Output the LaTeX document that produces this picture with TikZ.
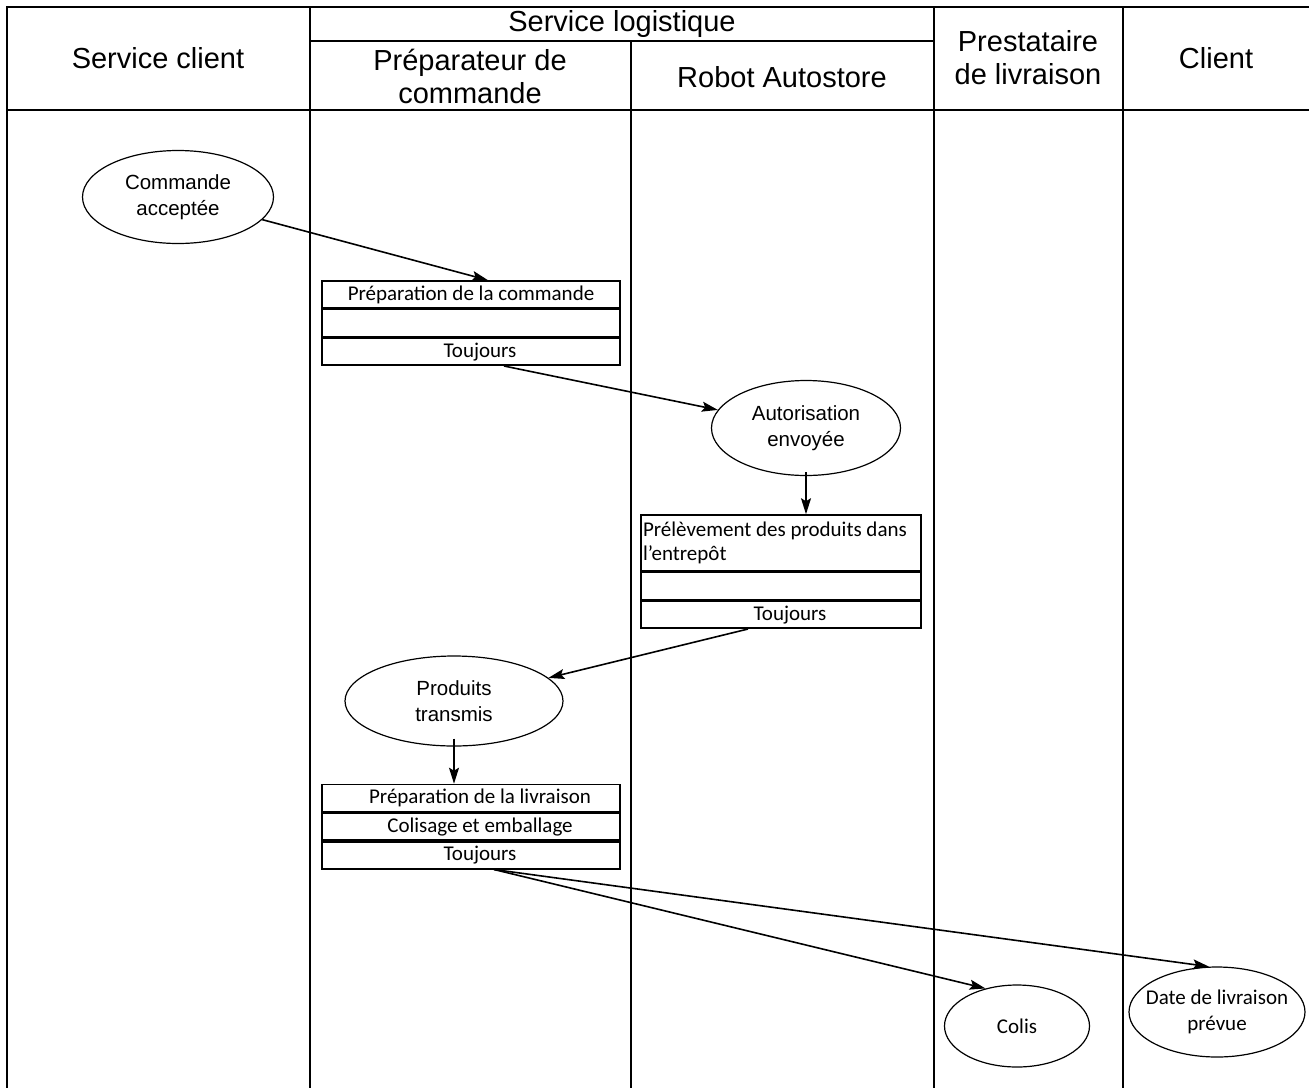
\documentclass[tikz,border=0pt]{standalone}
\usepackage{fontspec}
\setmainfont{Liberation Sans}
\newfontfamily\calibri{Carlito}
\usetikzlibrary{arrows.meta,positioning,shapes.geometric}
\tikzset{
  lane/.style={line width=1.8pt},
  fleche/.style={line width=1.6pt,-{Stealth[length=16pt,width=10pt,inset=3pt]}},
  etat/.style={draw,ellipse,line width=1.2pt,align=center,inner sep=0pt,font=\fontsize{20.5}{26}\selectfont},
  ligne/.style={draw,rectangle,line width=1.6pt,minimum width=298pt,minimum height=27pt,inner sep=0pt,font=\calibri\fontsize{21}{24}\selectfont},
  titre/.style={align=center,font=\fontsize{29}{33}\selectfont}
}
\newcommand{\decal}[1]{\hspace*{18pt}#1}
\begin{document}
\begin{tikzpicture}[x=1pt,y=-1pt]
  \useasboundingbox (0,0) rectangle (1309,1088);
  % couloirs
  \draw [lane] (1309,7) -- (7,7) -- (7,1088);
  \draw [lane] (7,110) -- (1309,110);
  \draw [lane] (310,41) -- (934,41);
  \draw [lane] (310,7) -- (310,1088);
  \draw [lane] (631,41) -- (631,1088);
  \draw [lane] (934,7) -- (934,1088);
  \draw [lane] (1123,7) -- (1123,1088);
  % titres
  \node [titre] (tlog) at (622,24) {Service logistique};
  \node [titre] (tsc) at (158,58) {Service client};
  \node [titre] (tprep) at (470,76) {Pr\'eparateur de\\commande};
  \node [titre] (trob) at (782,77) {Robot Autostore};
  \node [titre] (tpres) at (1028,58) {Prestataire\\de livraison};
  \node [titre] (tcli) at (1216,58) {Client};
  % etats
  \node [etat, minimum width=191pt, minimum height=93pt] (acc) at (178,197) {Commande\\accept\'ee};
  \node [etat, minimum width=189pt, minimum height=95pt] (auto) at (806,428) {Autorisation\\envoy\'ee};
  \node [etat, minimum width=218pt, minimum height=90pt] (prod) at (454,701) {Produits\\transmis};
  \node [etat, minimum width=145pt, minimum height=82pt, font=\calibri\fontsize{21}{26}\selectfont] (colis) at (1017,1026) {Colis};
  \node [etat, minimum width=176pt, minimum height=90pt,
    label={[align=center, font=\calibri\fontsize{21}{26}\selectfont]center:Date de livraison\\pr\'evue}] (date) at (1217,1012) {};
  % activites
  \node [ligne] (cmd1) at (471,294.5) {Pr\'eparation de la commande};
  \node [ligne, below=0pt of cmd1] (cmd2) {};
  \node [ligne, below=0pt of cmd2] (cmd3) {\decal{Toujours}};
  \node [ligne, minimum width=280pt, minimum height=56pt, text width=276pt, align=flush left, inner xsep=2pt] (pr1) at (781,543) {Pr\'el\`evement des produits dans\\l’entrep\^ot};
  \node [ligne, minimum width=280pt, below=0pt of pr1] (pr2) {};
  \node [ligne, minimum width=280pt, below=0pt of pr2] (pr3) {\decal{Toujours}};
  \node [ligne] (liv1) at (471,798) {\decal{Pr\'eparation de la livraison}};
  \node [ligne, below=0pt of liv1] (liv2) {\decal{Colisage et emballage}};
  \node [ligne, below=0pt of liv2] (liv3) {\decal{Toujours}};
  % fleches
  \draw [fleche] (acc) -- ([xshift=17pt]cmd1.north);
  \draw [fleche] ([xshift=33pt]cmd3.south) -- (auto);
  \draw [fleche] ([yshift=4pt]auto.south) -- (auto.south |- pr1.north);
  \draw [fleche] ([xshift=-33pt]pr3.south) -- (prod);
  \draw [fleche] ([yshift=8pt]prod.south) -- (prod.south |- liv1.north);
  \draw [fleche] ([xshift=23pt]liv3.south) -- (colis.130);
  \draw [fleche] ([xshift=23pt]liv3.south) -- (date.100);
\end{tikzpicture}
\end{document}
